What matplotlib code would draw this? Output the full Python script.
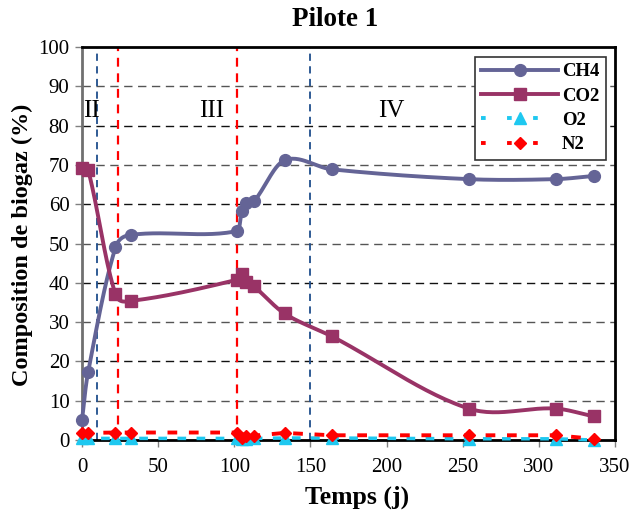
import numpy as np
import matplotlib.pyplot as plt

# sampling days (j)
days = [0, 4, 22, 32, 102, 105, 108, 113, 133, 164, 254, 311, 336]
# biogas composition (%)
ch4 = [5.0, 17.2, 49.0, 52.2, 53.2, 58.2, 60.3, 60.8, 71.2, 68.9, 66.4, 66.4, 67.2]
co2 = [69.2, 68.8, 37.1, 35.4, 40.8, 42.2, 40.3, 39.1, 32.2, 26.4, 8.0, 8.0, 6.0]
o2 = [0.4, 0.4, 0.4, 0.4, 0.4, 0.2, 0.3, 0.4, 0.5, 0.5, 0.3, 0.3, 0.0]
n2 = [1.9, 1.8, 1.9, 1.9, 1.9, 0.6, 1.0, 1.1, 1.8, 1.2, 1.2, 1.2, 0.3]

# phase limits and labels
phase_blue = [10, 150]
phase_red = [23.5, 102]
phase_labels = ['II', 'III', 'IV']
phase_label_x = [6.5, 85, 203]

serif = 'Liberation Serif'


def smooth(x, y, n=30):
    # Excel-like smoothed line (bezier between points, tangents scaled by segment length)
    x = np.asarray(x, float)
    y = np.asarray(y, float)
    pts = np.column_stack([x, y])
    m = len(pts)
    tang = np.zeros_like(pts)
    for i in range(m):
        a = pts[max(i - 1, 0)]
        b = pts[min(i + 1, m - 1)]
        tang[i] = b - a
    xs, ys = [], []
    for i in range(m - 1):
        p0, p3 = pts[i], pts[i + 1]
        seg = np.hypot(*(p3 - p0))
        lp = np.hypot(*(p0 - pts[max(i - 1, 0)]))
        ln = np.hypot(*(pts[min(i + 2, m - 1)] - p3))
        k0 = seg / (lp + seg) if lp + seg > 0 else 0
        k3 = seg / (ln + seg) if ln + seg > 0 else 0
        c1 = p0 + tang[i] * k0 / 3
        c2 = p3 - tang[i + 1] * k3 / 3
        t = np.linspace(0, 1, n)[:, None]
        bz = (1 - t) ** 3 * p0 + 3 * (1 - t) ** 2 * t * c1 + 3 * (1 - t) * t ** 2 * c2 + t ** 3 * p3
        xs.extend(bz[:, 0])
        ys.extend(bz[:, 1])
    return xs, ys


fig = plt.figure(figsize=(6.33, 5.21), dpi=100)
ax = fig.add_axes([0.1295, 0.1555, 0.842, 0.754])

for i, v in enumerate([10, 20, 30, 40, 50, 60, 70, 80, 90]):
    ax.axhline(v, color='#111111' if i % 2 else '#555555', lw=1, ls=(0, (6, 4)), zorder=1)

for v in phase_blue:
    ax.axvline(v, color='#1f4e8c', lw=1.3, ls=(0, (4, 3)), zorder=2)
for v in phase_red:
    ax.axvline(v, color='#ff0000', lw=1.6, ls=(0, (4, 3)), zorder=2)

for lab, lx in zip(phase_labels, phase_label_x):
    ax.text(lx, 83.8, lab, ha='center', va='center', fontsize=18, family=serif)

c_ch4 = '#646496'
c_co2 = '#993366'
c_o2 = '#1ec8f0'
c_n2 = '#ff0000'

sx, sy = smooth(days, ch4)
ax.plot(sx, sy, color=c_ch4, lw=2.8, zorder=4, solid_capstyle='round', clip_on=False)
ax.plot(days, ch4, 'o', color=c_ch4, ms=8.5, zorder=5, clip_on=False)
sx, sy = smooth(days, co2)
ax.plot(sx, sy, color=c_co2, lw=2.8, zorder=4, solid_capstyle='round', clip_on=False)
ax.plot(days, co2, 's', color=c_co2, ms=8, zorder=5, clip_on=False)
ax.plot(days, o2, color=c_o2, lw=2.5, ls=(0, (2.5, 3)), marker='^', ms=8, zorder=3, clip_on=False)
ax.plot(days, n2, color=c_n2, lw=2.8, ls=(0, (2.5, 3)), marker='D', ms=6.5, zorder=3, clip_on=False)

# legend proxies
h1, = ax.plot([], [], color=c_ch4, lw=2.8, marker='o', ms=8.5)
h2, = ax.plot([], [], color=c_co2, lw=2.8, marker='s', ms=8)
h3, = ax.plot([], [], color=c_o2, lw=2.8, ls=(0, (1.2, 5.5)), marker='^', ms=8)
h4, = ax.plot([], [], color=c_n2, lw=2.8, ls=(0, (1.2, 5.5)), marker='D', ms=6.5)
leg = ax.legend([h1, h2, h3, h4], ['CH4', 'CO2', 'O2', 'N2'], loc='upper right',
                bbox_to_anchor=(0.99, 0.985), fancybox=False, framealpha=1,
                edgecolor='#333333', handlelength=4.1, labelspacing=0.38,
                prop={'family': serif, 'weight': 'bold', 'size': 13.5},
                borderpad=0.35, handletextpad=0.2, borderaxespad=0.2)
leg.get_frame().set_linewidth(1.2)

ax.set_xlim(0, 350)
ax.set_ylim(0, 100)
ax.set_xticks(range(0, 351, 50))
ax.set_yticks(range(0, 101, 10))
for lab in ax.get_xticklabels() + ax.get_yticklabels():
    lab.set_family(serif)
    lab.set_fontsize(15)
ax.tick_params(direction='out', length=5, width=1, color='#808080')
ax.tick_params(axis='x', pad=8)
ax.tick_params(axis='y', pad=4)
for s in ax.spines.values():
    s.set_linewidth(2)
    s.set_color('black')
ax.spines['left'].set_color('#707070')

fig.text(335 / 633, 1 - 20 / 521, 'Pilote 1', family=serif, fontweight='bold',
         fontsize=19.5, ha='center', va='center')
fig.text(357 / 633, 1 - 497 / 521, 'Temps (j)', family=serif, fontweight='bold',
         fontsize=18.5, ha='center', va='center')
fig.text(22 / 633, 1 - 245 / 521, 'Composition de biogaz (%)', family=serif,
         fontweight='bold', fontsize=17.5, ha='center', va='center', rotation=90)

fig.savefig('out.png', dpi=100)
